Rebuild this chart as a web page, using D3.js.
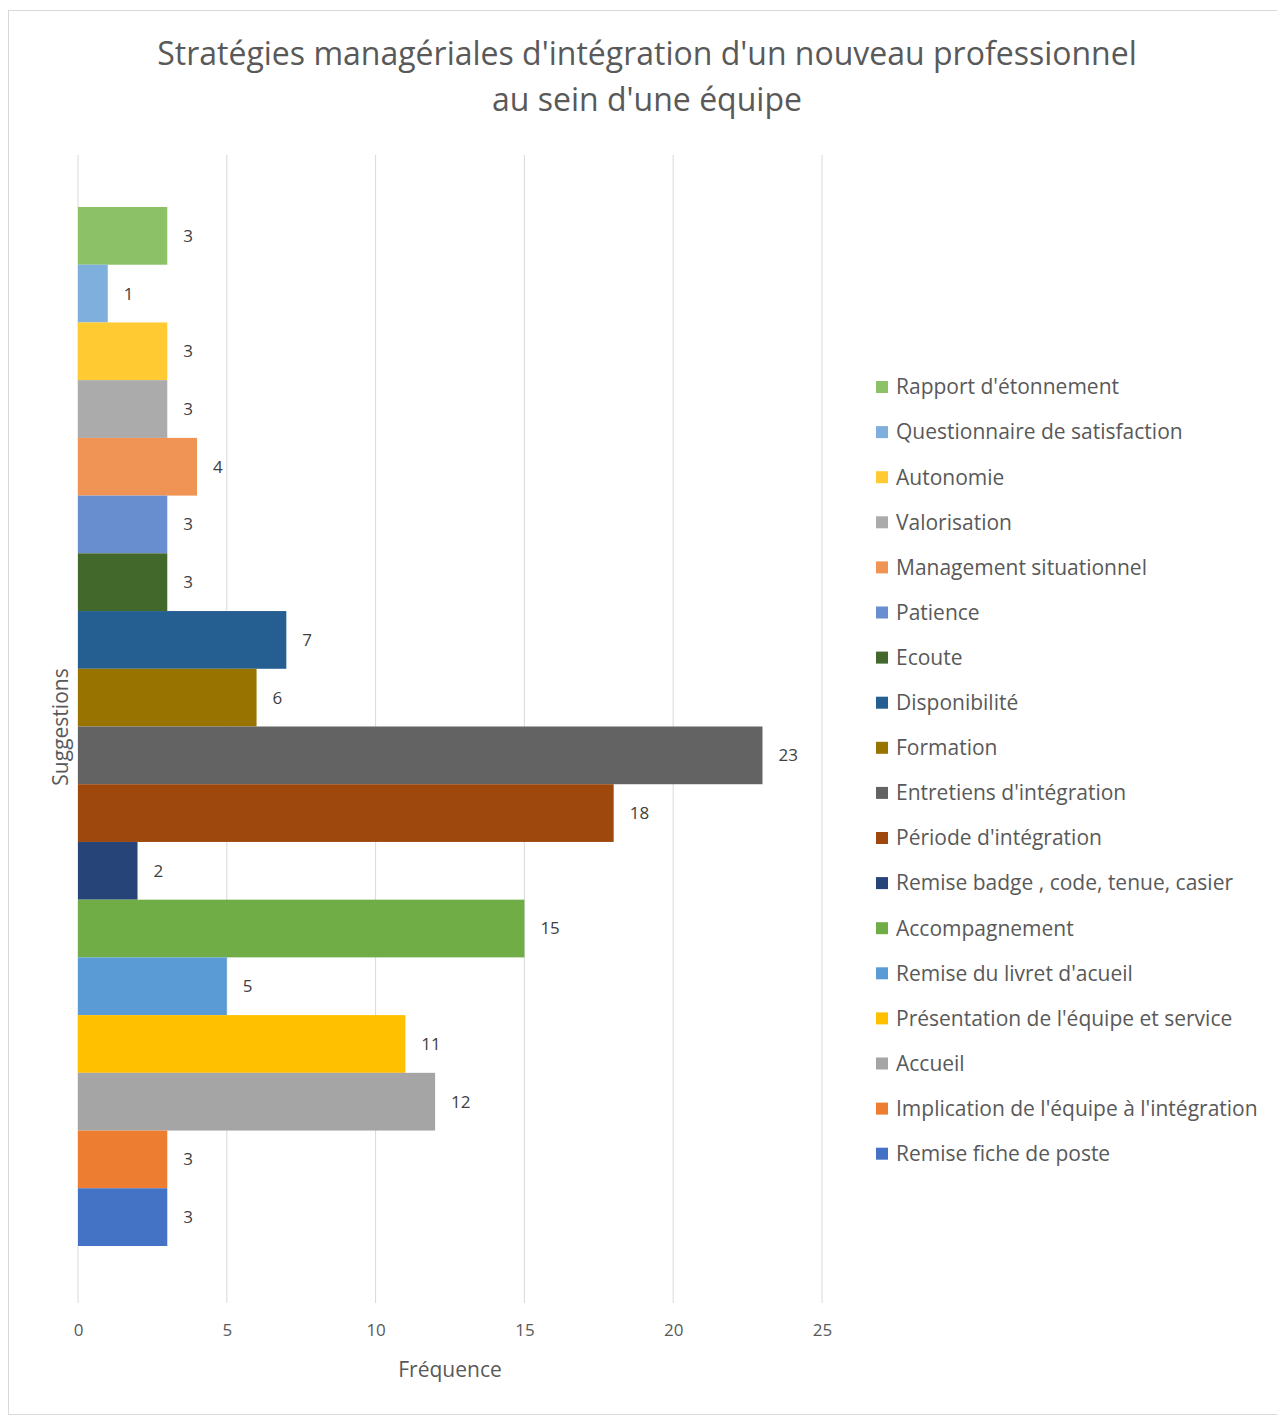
<!DOCTYPE html>
<html><head><meta charset="utf-8">
<script src="https://cdn.jsdelivr.net/npm/d3@7"></script>
<style>body{margin:0;background:#fff}svg{display:block}</style>
</head><body>
<script>
const categories = ["Rapport d'étonnement","Questionnaire de satisfaction","Autonomie","Valorisation","Management situationnel","Patience","Ecoute","Disponibilité","Formation","Entretiens d'intégration","Période d'intégration","Remise badge , code, tenue, casier","Accompagnement","Remise du livret d'acueil","Présentation de l'équipe et service","Accueil","Implication de l'équipe à l'intégration","Remise fiche de poste"];
const values = [3,1,3,3,4,3,3,7,6,23,18,2,15,5,11,12,3,3];
const colors = ["#8cc168","#7eafdd","#ffca32","#ababab","#f09456","#698ed0","#43682b","#255e91","#997300","#636363","#9e480e","#264478","#70ad47","#5b9bd5","#ffc000","#a5a5a5","#ed7d31","#4472c4"];
const xTicks = [0,5,10,15,20,25];
const titleLines = ["Stratégies managériales d'intégration d'un nouveau professionnel","au sein d'une équipe"];

const W=1277,H=1416;
const svg=d3.select("body").append("svg").attr("width",W).attr("height",H);
svg.append("rect").attr("x",8.5).attr("y",10.5).attr("width",W).attr("height",H-12).attr("fill","#fff").attr("stroke","#d9d9d9");

const x=d3.scaleLinear().domain([0,25]).range([78,822]);
const y=d3.scaleBand().domain(categories).range([207,1246]).paddingInner(0).paddingOuter(0);

// gridlines
svg.append("g").selectAll("line").data(xTicks).join("line")
  .attr("x1",d=>x(d)).attr("x2",d=>x(d)).attr("y1",155).attr("y2",1303)
  .attr("stroke","#d9d9d9").attr("stroke-width",1);

const xAxis=svg.append("g").attr("transform","translate(0,1306)")
  .call(d3.axisBottom(x).tickValues(xTicks).tickSize(0).tickPadding(18));
xAxis.select(".domain").remove();
xAxis.selectAll("text").attr("font-family","Open Sans, sans-serif").attr("font-size",17).attr("fill","#595959");

// bars
svg.append("g").selectAll("rect").data(categories).join("rect")
  .attr("x",x(0)).attr("y",d=>y(d)).attr("height",y.bandwidth())
  .attr("width",(d,i)=>x(values[i])-x(0)).attr("fill",(d,i)=>colors[i]);

// labels
svg.append("g").selectAll("text").data(categories).join("text")
  .attr("x",(d,i)=>x(values[i])+16).attr("y",d=>y(d)+y.bandwidth()/2)
  .attr("dy","0.35em").attr("font-family","Open Sans, sans-serif").attr("font-size",17)
  .attr("fill","#404040").text((d,i)=>values[i]);

// title
svg.append("g").selectAll("text").data(titleLines).join("text")
  .attr("x",647).attr("y",(d,i)=>65+i*46).attr("text-anchor","middle")
  .attr("font-family","Open Sans, sans-serif").attr("font-size",32).attr("fill","#595959").text(d=>d);

// axis titles
svg.append("text").attr("x",450).attr("y",1377).attr("text-anchor","middle")
  .attr("font-family","Open Sans, sans-serif").attr("font-size",21).attr("fill","#595959").text("Fréquence");
svg.append("text").attr("transform","translate(68,727) rotate(-90)").attr("text-anchor","middle")
  .attr("font-family","Open Sans, sans-serif").attr("font-size",21).attr("fill","#595959").text("Suggestions");

// legend
const lg=svg.append("g").selectAll("g").data(categories).join("g")
  .attr("transform",(d,i)=>`translate(876,${387+i*45.1})`);
lg.append("rect").attr("x",0).attr("y",-6).attr("width",12).attr("height",12).attr("fill",(d,i)=>colors[i]);
lg.append("text").attr("x",20).attr("y",0).attr("dy","0.35em")
  .attr("font-family","Open Sans, sans-serif").attr("font-size",21).attr("fill","#595959").text(d=>d);
</script>
</body></html>
